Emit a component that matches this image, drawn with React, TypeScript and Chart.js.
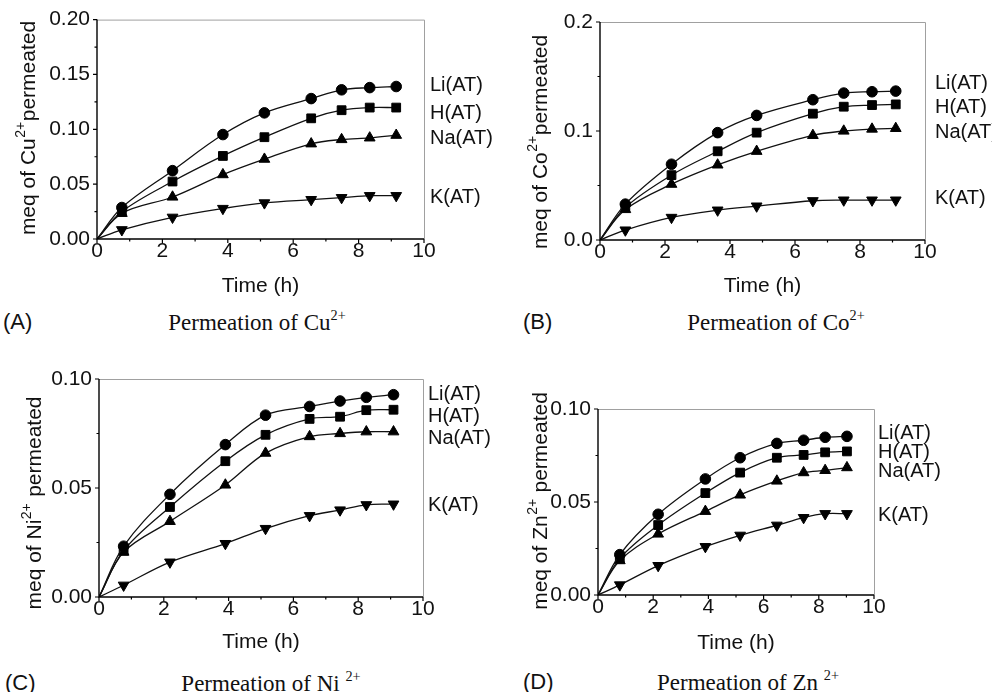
import React, { useEffect, useRef } from "react";
import { Chart, registerables } from "chart.js";
Chart.register(...registerables);

// ---------- data ----------
const seriesNames = ["Li(AT)", "H(AT)", "Na(AT)", "K(AT)"];
const xTickValues = [0, 2, 4, 6, 8, 10];

// (A) Cu2+
const timeCu = [0, 0.76, 2.31, 3.85, 5.12, 6.55, 7.48, 8.34, 9.15];
const cuLi = [0, 0.0287, 0.0623, 0.0952, 0.115, 0.128, 0.136, 0.138, 0.139];
const cuH = [0, 0.025, 0.0524, 0.0757, 0.0928, 0.11, 0.1174, 0.1198, 0.1198];
const cuNa = [0, 0.0234, 0.0383, 0.0587, 0.0728, 0.0868, 0.0907, 0.0922, 0.0946];
const cuK = [0, 0.0084, 0.0198, 0.0278, 0.0329, 0.0359, 0.0377, 0.0395, 0.0395];
const cuLabelLevels = [0.14, 0.1145, 0.0918, 0.0382];

// (B) Co2+
const timeCo = [0, 0.78, 2.2, 3.62, 4.82, 6.55, 7.5, 8.37, 9.1];
const coLi = [0, 0.0329, 0.0695, 0.0985, 0.1143, 0.1287, 0.1348, 0.136, 0.1366];
const coH = [0, 0.0299, 0.0595, 0.0814, 0.0985, 0.1159, 0.1223, 0.1238, 0.1244];
const coNa = [0, 0.028, 0.0512, 0.0689, 0.0814, 0.096, 0.1, 0.1018, 0.1024];
const coK = [0, 0.0091, 0.0207, 0.0274, 0.0311, 0.036, 0.0366, 0.0366, 0.0366];
const coLabelLevels = [0.144, 0.122, 0.099, 0.0385];

// (C) Ni2+
const timeNi = [0, 0.76, 2.19, 3.9, 5.14, 6.5, 7.44, 8.25, 9.09];
const niLi = [0, 0.0233, 0.0471, 0.0699, 0.0834, 0.0874, 0.0899, 0.0916, 0.0928];
const niH = [0, 0.0213, 0.0413, 0.0623, 0.0744, 0.0817, 0.0827, 0.0857, 0.0859];
const niNa = [0, 0.0206, 0.0347, 0.0514, 0.066, 0.0736, 0.075, 0.0758, 0.0758];
const niK = [0, 0.0054, 0.016, 0.0245, 0.0314, 0.0373, 0.0399, 0.0423, 0.0426];
const niLabelLevels = [0.0927, 0.0827, 0.0728, 0.0422];

// (D) Zn2+
const timeZn = [0, 0.79, 2.18, 3.89, 5.15, 6.48, 7.45, 8.23, 9.02];
const znLi = [0, 0.0217, 0.0434, 0.0624, 0.0738, 0.0815, 0.0832, 0.0848, 0.0853];
const znH = [0, 0.0197, 0.0376, 0.0548, 0.0658, 0.0738, 0.0753, 0.0767, 0.0772];
const znNa = [0, 0.0185, 0.0328, 0.045, 0.0538, 0.0613, 0.0658, 0.067, 0.0685];
const znK = [0, 0.0054, 0.0158, 0.026, 0.0321, 0.0375, 0.0416, 0.0437, 0.0437];
const znLabelLevels = [0.0871, 0.0765, 0.0663, 0.0425];

// ---------- styling ----------
const SANS = '"Liberation Sans", Arial, sans-serif';
const SERIF = '"Liberation Serif", "Times New Roman", serif';
const INK = "#111";

const markerStyles = [
  { pointStyle: "circle", radius: 5.3, rotation: 0 },
  { pointStyle: "rect", radius: 6.2, rotation: 0 },
  { pointStyle: "triangle", radius: 6.2, rotation: 0 },
  { pointStyle: "triangle", radius: 6.2, rotation: 180 },
];

type PanelDef = {
  key: string;
  letter: string;
  ion: string;
  supSpace: boolean;
  time: number[];
  series: number[][];
  labelLevels: number[];
  yMax: number;
  yStep: number;
  yMinor: number;
  dec: number;
  ox: number;
  oy: number;
  w: number;
  h: number;
  plotL: number;
  plotR: number;
  plotT: number;
  plotB: number;
  yTitleX: number;
  yTitleY: number;
  xTitlePad: number;
  labelDx: number;
  captionY: number;
  captionX: number;
  letterX: number;
};

const panels: PanelDef[] = [
  {
    key: "A", letter: "(A)", ion: "Cu", supSpace: false,
    time: timeCu, series: [cuLi, cuH, cuNa, cuK], labelLevels: cuLabelLevels,
    yMax: 0.2, yStep: 0.05, yMinor: 0.025, dec: 2,
    ox: 0, oy: 0, w: 496, h: 300,
    plotL: 97, plotR: 424, plotT: 19, plotB: 239,
    yTitleX: 27, yTitleY: 128, xTitlePad: 1, labelDx: 6,
    captionX: 257, captionY: 322, letterX: 3,
  },
  {
    key: "B", letter: "(B)", ion: "Co", supSpace: false,
    time: timeCo, series: [coLi, coH, coNa, coK], labelLevels: coLabelLevels,
    yMax: 0.2, yStep: 0.1, yMinor: 0.05, dec: 1,
    ox: 496, oy: 0, w: 496, h: 300,
    plotL: 600, plotR: 925, plotT: 22, plotB: 240,
    yTitleX: 539, yTitleY: 142, xTitlePad: 1, labelDx: 10,
    captionX: 776, captionY: 322, letterX: 523,
  },
  {
    key: "C", letter: "(C)", ion: "Ni", supSpace: true,
    time: timeNi, series: [niLi, niH, niNa, niK], labelLevels: niLabelLevels,
    yMax: 0.1, yStep: 0.05, yMinor: 0.025, dec: 2,
    ox: 0, oy: 340, w: 496, h: 316,
    plotL: 99, plotR: 423, plotT: 379, plotB: 597,
    yTitleX: 33, yTitleY: 503, xTitlePad: 1, labelDx: 5,
    captionX: 271, captionY: 683, letterX: 5,
  },
  {
    key: "D", letter: "(D)", ion: "Zn", supSpace: true,
    time: timeZn, series: [znLi, znH, znNa, znK], labelLevels: znLabelLevels,
    yMax: 0.1, yStep: 0.05, yMinor: 0.025, dec: 2,
    ox: 496, oy: 340, w: 496, h: 316,
    plotL: 598, plotR: 874, plotT: 409, plotB: 595,
    yTitleX: 539, yTitleY: 501, xTitlePad: 0, labelDx: 4,
    captionX: 748, captionY: 682, letterX: 523,
  },
];

function makeDecor(p: PanelDef) {
  return {
    id: "decor" + p.key,
    afterDraw(chart: any) {
      const { ctx, chartArea: a, scales } = chart;
      const xs = scales.x;
      const ys = scales.y;
      ctx.save();
      // top/right frame (grey)
      ctx.strokeStyle = "#a0a0a0";
      ctx.lineWidth = 1;
      ctx.beginPath();
      ctx.moveTo(a.left, a.top + 0.5);
      ctx.lineTo(a.right + 0.5, a.top + 0.5);
      ctx.lineTo(a.right + 0.5, a.bottom);
      ctx.stroke();
      // left/bottom axes (black)
      ctx.strokeStyle = "#000";
      ctx.lineWidth = 1.4;
      ctx.beginPath();
      ctx.moveTo(a.left, a.top);
      ctx.lineTo(a.left, a.bottom);
      ctx.lineTo(a.right, a.bottom);
      ctx.stroke();
      // x ticks (outward)
      ctx.lineWidth = 1.2;
      ctx.beginPath();
      for (let v = 0; v <= 10; v += 1) {
        const px = xs.getPixelForValue(v);
        const len = v % 2 === 0 ? 4 : 2.5;
        ctx.moveTo(px, a.bottom);
        ctx.lineTo(px, a.bottom + len);
      }
      // y ticks (outward)
      const n = Math.round(p.yMax / p.yMinor);
      for (let i = 0; i <= n; i++) {
        const v = i * p.yMinor;
        const py = ys.getPixelForValue(v);
        const major = Math.abs(v / p.yStep - Math.round(v / p.yStep)) < 1e-6;
        const len = major ? 4 : 2.5;
        ctx.moveTo(a.left, py);
        ctx.lineTo(a.left - len, py);
      }
      ctx.stroke();

      // series labels
      ctx.fillStyle = INK;
      ctx.font = `20px ${SANS}`;
      ctx.textAlign = "left";
      ctx.textBaseline = "middle";
      seriesNames.forEach((name, i) => {
        ctx.fillText(name, a.right + p.labelDx, ys.getPixelForValue(p.labelLevels[i]));
      });

      // y title with superscript
      const cx = p.yTitleX - p.ox;
      const cy = p.yTitleY - p.oy;
      const main = `21px ${SANS}`;
      const small = `14px ${SANS}`;
      const part1 = "meq of " + p.ion;
      const sup = "2+";
      const part2 = (p.supSpace ? " " : "") + "permeated";
      ctx.font = main;
      const w1 = ctx.measureText(part1).width;
      const w3 = ctx.measureText(part2).width;
      ctx.font = small;
      const w2 = ctx.measureText(sup).width + 1;
      const total = w1 + w2 + w3;
      ctx.translate(cx, cy);
      ctx.rotate(-Math.PI / 2);
      ctx.textBaseline = "alphabetic";
      const base = 7.5;
      let xx = -total / 2;
      ctx.font = main;
      ctx.fillText(part1, xx, base);
      xx += w1 + 0.5;
      ctx.font = small;
      ctx.fillText(sup, xx, base - 9.5);
      xx += w2 - 0.5;
      ctx.font = main;
      ctx.fillText(part2, xx, base);
      ctx.restore();
    },
  };
}

function Panel({ p }: { p: PanelDef }) {
  const ref = useRef<HTMLCanvasElement | null>(null);
  useEffect(() => {
    if (!ref.current) return;
    const datasets = p.series.map((vals, i) => {
      const m = markerStyles[i];
      return {
        label: seriesNames[i],
        data: vals.map((y, j) => ({ x: p.time[j], y })),
        borderColor: INK,
        borderWidth: 1.3,
        backgroundColor: "#000",
        pointBackgroundColor: "#000",
        pointBorderColor: "#000",
        pointBorderWidth: 1,
        pointStyle: m.pointStyle,
        pointRotation: m.rotation,
        pointRadius: vals.map((_, j) => (j === 0 ? 0 : m.radius)),
        tension: 0.35,
        fill: false,
      };
    });
    const yW = p.plotL - p.ox;
    const xH = p.oy + p.h - p.plotB;
    const chart = new Chart(ref.current, {
      type: "line",
      data: { datasets } as any,
      plugins: [makeDecor(p)],
      options: {
        animation: false,
        responsive: false,
        devicePixelRatio: 1,
        layout: {
          autoPadding: false,
          padding: { left: 0, bottom: 0, top: p.plotT - p.oy, right: p.ox + p.w - p.plotR },
        },
        plugins: { legend: { display: false }, tooltip: { enabled: false } },
        scales: {
          x: {
            type: "linear",
            min: 0,
            max: 10,
            afterFit: (s: any) => { s.height = xH; },
            afterBuildTicks: (s: any) => { s.ticks = xTickValues.map((v) => ({ value: v })); },
            grid: { display: false, drawTicks: false },
            border: { display: false },
            ticks: { padding: 0, color: INK, font: { family: SANS, size: 21 }, maxRotation: 0, autoSkip: false },
            title: {
              display: true,
              text: "Time (h)",
              color: INK,
              font: { family: SANS, size: 21 },
              padding: { top: 0, bottom: p.xTitlePad },
            },
          },
          y: {
            type: "linear",
            min: 0,
            max: p.yMax,
            afterFit: (s: any) => { s.width = yW; },
            grid: { display: false, drawTicks: false },
            border: { display: false },
            ticks: {
              stepSize: p.yStep,
              padding: 7,
              color: INK,
              font: { family: SANS, size: 21 },
              callback: (v: any) => Number(v).toFixed(p.dec),
            },
          },
        },
      } as any,
    });
    return () => chart.destroy();
  }, [p]);
  return (
    <canvas
      ref={ref}
      width={p.w}
      height={p.h}
      style={{ position: "absolute", left: p.ox, top: p.oy, width: p.w, height: p.h }}
    />
  );
}

function Caption({ p }: { p: PanelDef }) {
  return (
    <>
      <div
        style={{
          position: "absolute", left: p.letterX, top: p.captionY, transform: "translateY(-50%)",
          font: `22px ${SANS}`, color: INK, lineHeight: 1, whiteSpace: "nowrap",
        }}
      >
        {p.letter}
      </div>
      <div
        style={{
          position: "absolute", left: p.captionX, top: p.captionY, transform: "translate(-50%, -50%)",
          font: `23px ${SERIF}`, color: INK, lineHeight: 1, whiteSpace: "nowrap",
        }}
      >
        Permeation of {p.ion}
        {p.supSpace ? " " : ""}
        <sup style={{ fontSize: "0.62em", verticalAlign: "0.7em", lineHeight: 0 }}>2+</sup>
      </div>
    </>
  );
}

export default function App() {
  return (
    <div
      style={{
        position: "fixed", left: 0, top: 0, width: 992, height: 692,
        background: "#fff", overflow: "hidden",
      }}
    >
      {panels.map((p) => (
        <Panel key={p.key} p={p} />
      ))}
      {panels.map((p) => (
        <Caption key={"c" + p.key} p={p} />
      ))}
    </div>
  );
}
